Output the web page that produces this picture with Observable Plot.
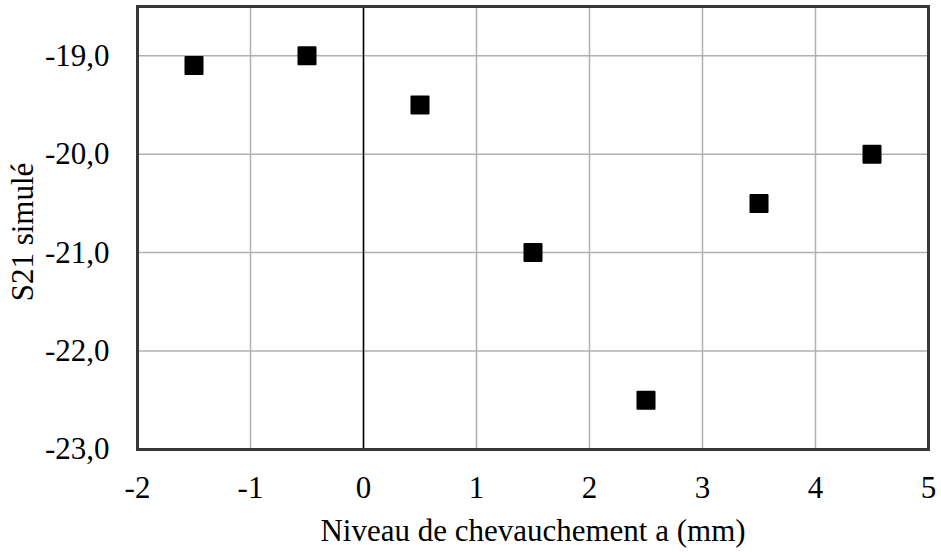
<!DOCTYPE html>
<html>
<head>
<meta charset="utf-8">
<script src="https://cdn.jsdelivr.net/npm/d3@7"></script>
<script src="https://cdn.jsdelivr.net/npm/@observablehq/plot@0.6"></script>
<style>
  html, body { margin: 0; padding: 0; background: #fff; }
  #chart svg { display: block; background: #fff; }
</style>
</head>
<body>
<div id="chart"></div>
<script>
const overlap = [-1.5, -0.5, 0.5, 1.5, 2.5, 3.5, 4.5];
const s21 = [-19.1, -19.0, -19.5, -21.0, -22.5, -20.5, -20.0];
const xTicks = [-2, -1, 0, 1, 2, 3, 4, 5];
const yTicks = [-19, -20, -21, -22, -23];
const xLabel = "Niveau de chevauchement a (mm)";
const yLabel = "S21 simulé";

const data = overlap.map((x, i) => ({x, y: s21[i]}));
const fmtY = d => d.toFixed(1).replace(".", ",");
const serif = "'Liberation Serif', 'Times New Roman', 'DejaVu Serif', serif";

const chart = Plot.plot({
  width: 941,
  height: 552,
  marginLeft: 137,
  marginRight: 13,
  marginTop: 6,
  marginBottom: 103,
  x: {domain: [-2, 5]},
  y: {domain: [-23, -18.5]},
  marks: [
    Plot.gridX(xTicks, {stroke: "#b0b0b0", strokeOpacity: 1, strokeWidth: 1.5}),
    Plot.gridY(yTicks, {stroke: "#b0b0b0", strokeOpacity: 1, strokeWidth: 1.5}),
    Plot.ruleX([0], {stroke: "#000", strokeWidth: 1.5}),
    Plot.frame({stroke: "#383838", strokeWidth: 3}),
    Plot.axisX({ticks: xTicks, tickSize: 0, tickPadding: 26, tickFormat: d => String(d), fontSize: 31, fill: "#000", label: null}),
    Plot.axisY({ticks: yTicks, tickSize: 0, tickPadding: 28, tickFormat: fmtY, fontSize: 31, fill: "#000", label: null}),
    Plot.text([xLabel], {frameAnchor: "bottom", textAnchor: "middle", dy: 91, fontSize: 31, fill: "#000"}),
    Plot.text([yLabel], {frameAnchor: "left", textAnchor: "middle", dx: -114, dy: 4, rotate: -90, fontSize: 31, fill: "#000"}),
    Plot.dot(data, {x: "x", y: "y", symbol: "square", r: 9.6, fill: "#000", stroke: "#000", strokeWidth: 2, strokeLinejoin: "round"})
  ]
});
chart.querySelectorAll("text, g").forEach(el => el.style.fontFamily = serif);
document.getElementById("chart").appendChild(chart);
</script>
</body>
</html>
